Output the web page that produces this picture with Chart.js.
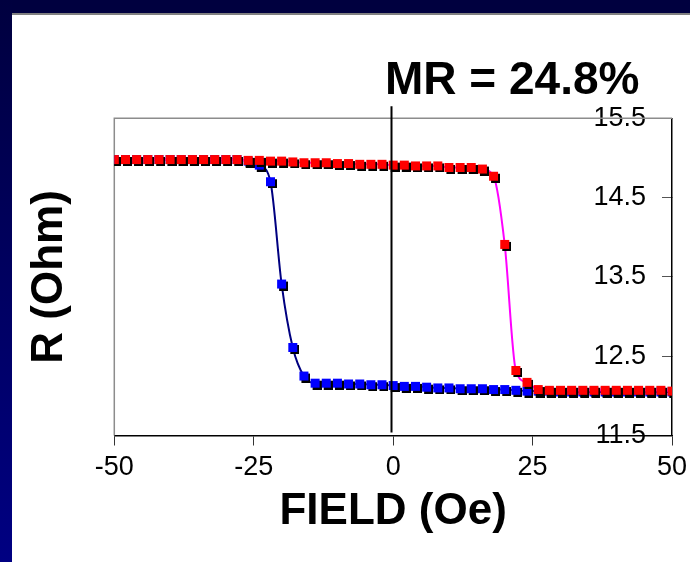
<!DOCTYPE html>
<html><head><meta charset="utf-8">
<script src="https://cdn.jsdelivr.net/npm/chart.js@4/dist/chart.umd.min.js"></script>
<style>
html,body{margin:0;padding:0;background:#fff;width:690px;height:562px;overflow:hidden;}
#wrap{position:relative;width:690px;height:562px;background:#fff;}
#topband{position:absolute;left:0;top:0;width:690px;height:13px;background:#00003f;}
#topline{position:absolute;left:12px;top:13px;width:678px;height:2px;background:#808080;}
#leftband{position:absolute;left:0;top:0;width:12px;height:562px;background:linear-gradient(#00003f,#000082);}
#c{position:absolute;left:0;top:0;}
</style></head><body>
<div id="wrap"><div id="topband"></div><div id="topline"></div><div id="leftband"></div>
<canvas id="c" width="690" height="562"></canvas></div>
<script>
// ---- data ----
const fieldOe = [-50,-48,-46,-44,-42,-40,-38,-36,-34,-32,-30,-28,-26,-24,-22,-20,-18,-16,-14,-12,-10,-8,-6,-4,-2,0,2,4,6,8,10,12,14,16,18,20,22,24,26,28,30,32,34,36,38,40,42,44,46,48,50];
const rBlue = [14.98,14.98,14.98,14.98,14.98,14.98,14.98,14.98,14.98,14.98,14.98,14.98,14.96,14.91,14.70,13.41,12.61,12.25,12.16,12.16,12.16,12.15,12.15,12.14,12.14,12.13,12.12,12.12,12.11,12.10,12.10,12.09,12.09,12.09,12.08,12.08,12.07,12.06,12.06,12.06,12.05,12.05,12.05,12.05,12.05,12.05,12.05,12.05,12.05,12.05,12.05];
const rRed = [14.98,14.98,14.98,14.98,14.98,14.98,14.98,14.98,14.98,14.98,14.98,14.98,14.97,14.97,14.96,14.96,14.95,14.94,14.94,14.94,14.93,14.93,14.92,14.92,14.92,14.91,14.91,14.90,14.90,14.90,14.88,14.88,14.88,14.86,14.77,13.91,12.32,12.17,12.08,12.07,12.07,12.07,12.07,12.07,12.07,12.07,12.07,12.07,12.07,12.07,12.06];
const xTickValues = [-50,-25,0,25,50];
const yTickValues = [11.5,12.5,13.5,14.5,15.5];
const xTitle = 'FIELD (Oe)';
const yTitle = 'R (Ohm)';
const annotationText = 'MR = 24.8%';

const FONT = "'Liberation Sans', Arial, Helvetica, sans-serif";
Chart.defaults.font.family = FONT;
Chart.defaults.color = '#000';

function squareMarker(fill){
  const S = 9, off = 2, c = document.createElement('canvas');
  c.width = S + 2*off; c.height = S + 2*off;
  const g = c.getContext('2d');
  g.fillStyle = '#000'; g.fillRect(2*off, 2*off, S, S);
  g.fillStyle = fill; g.fillRect(off, off, S, S);
  return c;
}

const overlay = {
  id: 'overlay',
  beforeDatasetsDraw(chart){
    const {ctx, chartArea:a} = chart;
    ctx.save();
    ctx.strokeStyle = '#8c8c8c'; ctx.lineWidth = 1.5;
    ctx.beginPath(); ctx.moveTo(a.left, a.bottom); ctx.lineTo(a.left, a.top); ctx.lineTo(a.right, a.top); ctx.stroke();
    ctx.restore();
  },
  afterDatasetsDraw(chart){
    const {ctx, chartArea:a} = chart;
    const x = Math.round(chart.scales.x.getPixelForValue(0)) - 1.5;
    ctx.save();
    ctx.strokeStyle = '#000'; ctx.lineWidth = 2;
    ctx.beginPath(); ctx.moveTo(x, a.top - 12); ctx.lineTo(x, a.bottom - 3); ctx.stroke();
    ctx.restore();
  },
  afterDraw(chart){
    const {ctx} = chart;
    ctx.save();
    ctx.fillStyle = '#000';
    ctx.font = 'bold 46px ' + FONT;
    ctx.textAlign = 'left'; ctx.textBaseline = 'alphabetic';
    ctx.fillText(annotationText, 385, 94);
    ctx.restore();
  }
};

new Chart(document.getElementById('c'), {
  type: 'line',
  data: {
    datasets: [
      {
        label: 'up',
        data: fieldOe.map((x, i) => ({x, y: rRed[i]})),
        borderColor: '#ff00ff', borderWidth: 2,
        pointStyle: squareMarker('#ff0000'), pointRadius: 6,
        cubicInterpolationMode: 'monotone', order: 0
      },
      {
        label: 'down',
        data: fieldOe.map((x, i) => ({x, y: rBlue[i]})),
        borderColor: '#000080', borderWidth: 2,
        pointStyle: squareMarker('#0000ff'), pointRadius: 6,
        cubicInterpolationMode: 'monotone', order: 1
      }
    ]
  },
  options: {
    responsive: false, animation: false,
    layout: {padding: {left: 12, right: 18, top: 118.3, bottom: 23.3}},
    plugins: {legend: {display: false}, tooltip: {enabled: false}, title: {display: false}},
    scales: {
      x: {
        type: 'linear', position: 'bottom', min: -50, max: 50,
        afterBuildTicks: s => { s.ticks = xTickValues.map(v => ({value: v})); },
        afterFit: s => { s.paddingLeft = 0; s.paddingRight = 0; },
        grid: {drawOnChartArea: false, drawTicks: true, tickLength: 10, color: '#333', lineWidth: 1},
        border: {display: true, color: '#000', width: 1.5},
        ticks: {font: {size: 27}, color: '#000', padding: 6, maxRotation: 0, autoSkip: false},
        title: {display: true, text: xTitle, font: {size: 44, weight: 'bold'}, color: '#000', padding: {top: -4, bottom: 0}}
      },
      y: {
        type: 'linear', position: 'right', min: 11.5, max: 15.5,
        afterBuildTicks: s => { s.ticks = yTickValues.map(v => ({value: v})); },
        afterFit: s => { s.width = 0; },
        grid: {drawOnChartArea: false, drawTicks: true, tickLength: -10, color: '#555', lineWidth: 1},
        border: {display: true, color: '#000', width: 1.5},
        ticks: {font: {size: 27}, color: '#000', mirror: true, crossAlign: 'near', padding: -26, autoSkip: false}
      },
      yTitleAxis: {
        type: 'linear', position: 'left', display: true,
        grid: {display: false, drawTicks: false, tickLength: 0}, border: {display: false}, ticks: {display: false},
        title: {display: true, text: yTitle, font: {size: 44, weight: 'bold'}, color: '#000', padding: {top: 11.6, bottom: 37.9}}
      }
    }
  },
  plugins: [overlay]
});
</script>
</body></html>
